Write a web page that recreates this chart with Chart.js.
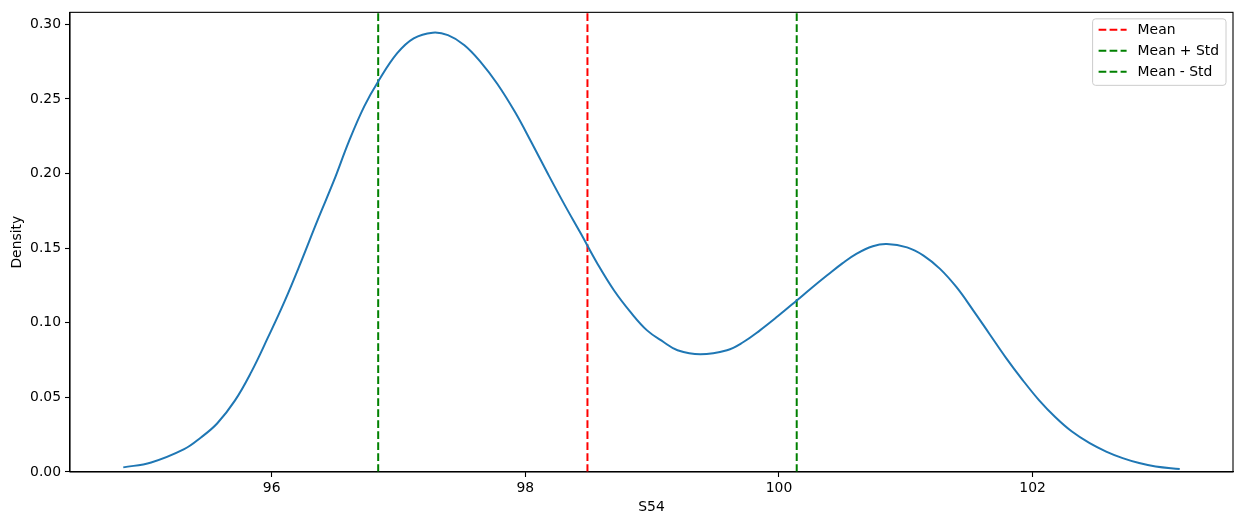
<!DOCTYPE html>
<html>
<head>
<meta charset="utf-8">
<script src="https://cdn.jsdelivr.net/npm/chart.js@4/dist/chart.umd.min.js"></script>
<style>
  html, body { margin: 0; padding: 0; background: #fff; }
  #wrap { width: 1242px; height: 525px; }
</style>
</head>
<body>
<div id="wrap"><canvas id="c" width="1242" height="525"></canvas></div>
<script>
// ---- data ----
const kdeX = [94.83, 95.05, 95.31, 95.44, 95.57, 95.71, 95.84, 95.97, 96.10, 96.23, 96.36, 96.49, 96.61, 96.73, 96.84, 96.99, 97.12, 97.27, 97.39, 97.52, 97.65, 97.78, 97.92, 98.05, 98.18, 98.31, 98.44, 98.57, 98.70, 98.83, 98.96, 99.09, 99.20, 99.38, 99.59, 99.72, 99.85, 99.99, 100.14, 100.25, 100.38, 100.50, 100.61, 100.74, 100.85, 101.01, 101.14, 101.27, 101.40, 101.53, 101.66, 101.79, 101.92, 102.05, 102.18, 102.31, 102.45, 102.58, 102.71, 102.84, 102.97, 103.16];
const kdeY = [0.0031, 0.0064, 0.0153, 0.0230, 0.0325, 0.0478, 0.0671, 0.0900, 0.1140, 0.1405, 0.1683, 0.1950, 0.2217, 0.2450, 0.2617, 0.2806, 0.2906, 0.2944, 0.2927, 0.2860, 0.2745, 0.2600, 0.2410, 0.2206, 0.1995, 0.1790, 0.1594, 0.1394, 0.1216, 0.1071, 0.0949, 0.0871, 0.0816, 0.0789, 0.0816, 0.0871, 0.0949, 0.1043, 0.1149, 0.1228, 0.1318, 0.1398, 0.1462, 0.1513, 0.1528, 0.1505, 0.1450, 0.1361, 0.1238, 0.1085, 0.0925, 0.0765, 0.0618, 0.0482, 0.0367, 0.0271, 0.0193, 0.0137, 0.0093, 0.0060, 0.0037, 0.0020];
const refLabels = ["Mean", "Mean + Std", "Mean - Std"];
const refValues = [98.49, 100.14, 96.84];
const refColors = ["#ff0000", "#008000", "#008000"];
const xTicks = [96, 98, 100, 102];
const yTicks = [0.00, 0.05, 0.10, 0.15, 0.20, 0.25, 0.30];
const xRange = [94.41, 103.58];
const yRange = [0, 0.308];
const xTitle = "S54";
const yTitle = "Density";

const FONT = "'DejaVu Sans', sans-serif";
const FS = 13.9;
const DASH = [7.7, 3.3];

const datasets = [{
  label: "kde",
  data: kdeX.map((x, i) => ({ x: x, y: kdeY[i] })),
  borderColor: "#1f77b4",
  borderWidth: 2,
  pointRadius: 0,
  showLine: true,
  fill: false,
  tension: 0.4,
  inLegend: false
}];
refValues.forEach((v, i) => {
  datasets.push({
    label: refLabels[i],
    data: [{ x: v, y: yRange[0] }, { x: v, y: yRange[1] }],
    borderColor: refColors[i],
    borderWidth: 2,
    borderDash: DASH,
    pointRadius: 0,
    showLine: true,
    fill: false,
    tension: 0,
    inLegend: true
  });
});

const frame = {
  id: "frame",
  afterDatasetsDraw(chart) {
    const { ctx, chartArea: a } = chart;
    ctx.save();
    ctx.strokeStyle = "#000";
    ctx.lineWidth = 1.1;
    ctx.strokeRect(a.left, a.top, a.right - a.left, a.bottom - a.top);
    ctx.restore();
  }
};

const legendBox = {
  id: "legendBox",
  afterDraw(chart) {
    const { ctx, chartArea: a } = chart;
    const items = chart.data.datasets.filter(d => d.inLegend);
    ctx.save();
    ctx.font = FS + "px " + FONT;
    const tw = Math.max(...items.map(d => ctx.measureText(d.label).width));
    const w = 45 + tw + 7;
    const rowH = 21;
    const h = 11 + rowH * (items.length - 1) + 13.5;
    const right = a.right - 7;
    const left = right - w;
    const top = a.top + 6.5;
    const r = 3;
    ctx.beginPath();
    ctx.moveTo(left + r, top);
    ctx.lineTo(right - r, top);
    ctx.quadraticCurveTo(right, top, right, top + r);
    ctx.lineTo(right, top + h - r);
    ctx.quadraticCurveTo(right, top + h, right - r, top + h);
    ctx.lineTo(left + r, top + h);
    ctx.quadraticCurveTo(left, top + h, left, top + h - r);
    ctx.lineTo(left, top + r);
    ctx.quadraticCurveTo(left, top, left + r, top);
    ctx.closePath();
    ctx.fillStyle = "rgba(255,255,255,0.8)";
    ctx.fill();
    ctx.strokeStyle = "#cccccc";
    ctx.lineWidth = 1;
    ctx.stroke();
    items.forEach((d, i) => {
      const cy = top + 11 + i * rowH;
      ctx.beginPath();
      ctx.setLineDash(d.borderDash);
      ctx.strokeStyle = d.borderColor;
      ctx.lineWidth = 2;
      ctx.moveTo(left + 6, cy);
      ctx.lineTo(left + 34, cy);
      ctx.stroke();
      ctx.setLineDash([]);
      ctx.fillStyle = "#000";
      ctx.textBaseline = "middle";
      ctx.textAlign = "left";
      ctx.fillText(d.label, left + 45, cy + 0.5);
    });
    ctx.restore();
  }
};

new Chart(document.getElementById("c"), {
  type: "scatter",
  data: { datasets },
  options: {
    responsive: false,
    animation: false,
    layout: { padding: { top: 11, right: 9, left: 0, bottom: 0 } },
    plugins: { legend: { display: false }, tooltip: { enabled: false } },
    scales: {
      x: {
        type: "linear",
        min: xRange[0],
        max: xRange[1],
        afterBuildTicks(s) { s.ticks = xTicks.map(v => ({ value: v })); },
        afterFit(s) { s.height = 53; },
        grid: { display: true, drawOnChartArea: false, drawTicks: true, tickLength: 5, tickColor: "#000", tickWidth: 1.1 },
        border: { display: true, color: "#000", width: 1.1 },
        ticks: { color: "#000", font: { family: FONT, size: FS }, padding: 3, maxRotation: 0, callback: v => String(v) },
        title: { display: true, text: xTitle, color: "#000", font: { family: FONT, size: FS }, padding: { top: 0, bottom: 9 } }
      },
      y: {
        type: "linear",
        min: yRange[0],
        max: yRange[1],
        afterBuildTicks(s) { s.ticks = yTicks.map(v => ({ value: v })); },
        afterFit(s) { s.width = 70; },
        grid: { display: true, drawOnChartArea: false, drawTicks: true, tickLength: 5, tickColor: "#000", tickWidth: 1.1 },
        border: { display: true, color: "#000", width: 1.1 },
        ticks: { color: "#000", font: { family: FONT, size: FS }, padding: 4, callback: v => v.toFixed(2) },
        title: { display: true, text: yTitle, color: "#000", font: { family: FONT, size: FS }, padding: { top: 9, bottom: 0 } }
      }
    }
  },
  plugins: [frame, legendBox]
});
</script>
</body>
</html>
